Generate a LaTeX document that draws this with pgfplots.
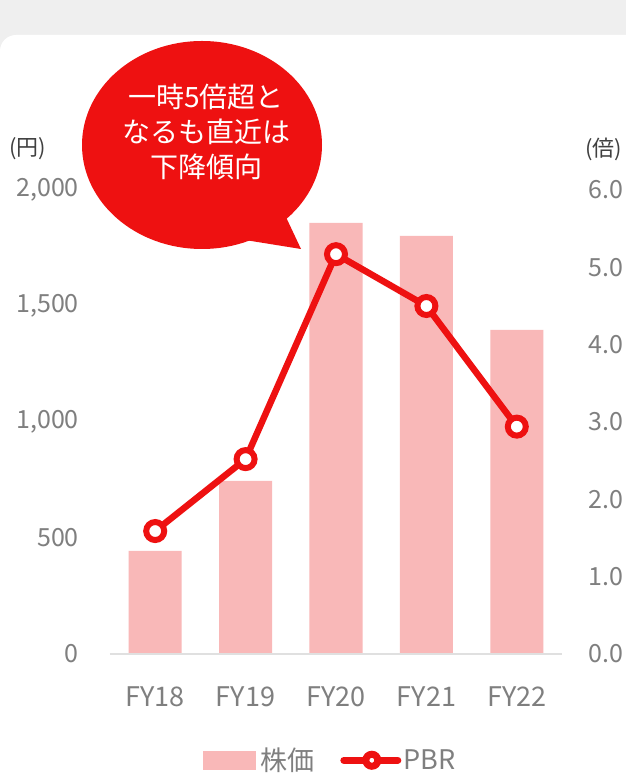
\documentclass[border=0pt]{standalone}
\usepackage{fontspec}
\setmainfont{Noto Sans CJK JP}
\usepackage{pgfplots}
\usepackage{pgfplotstable}
\pgfplotsset{compat=1.18}
\definecolor{bgray}{HTML}{EFEFEF}
\definecolor{barpink}{HTML}{F9B8B8}
\definecolor{pbrred}{HTML}{EE1111}
\definecolor{ticklab}{HTML}{7F7F7F}
\definecolor{unitlab}{HTML}{404040}
\definecolor{basegray}{HTML}{E0E0E0}
\pgfplotstableread{
x price pbr
0 444 1.59
1 746 2.52
2 1858 5.17
3 1802 4.50
4 1397 2.94
}\datatable
\begin{document}
\begin{tikzpicture}[x=1pt,y=1pt]
\fill[bgray] (0,0) rectangle (626,774);
\fill[white] (0,0) -- (0,723) arc[start angle=180,end angle=90,radius=16] -- (626,739) -- (626,0) -- cycle;
\pgfplotsset{common/.style={at={(110pt,120pt)}, anchor=south west, scale only axis,
  width=452pt, height=464pt, xmin=-0.5, xmax=4.5,
  axis line style={draw=none}, tick style={draw=none}, clip=false}}
\begin{axis}[common, ymin=0, ymax=2000,
  ytick={0,500,1000,1500,2000}, yticklabels={0,500,{1,000},{1,500},{2,000}},
  xtick={0,1,2,3,4}, xticklabels={FY18,FY19,FY20,FY21,FY22},
  yticklabel style={font=\fontsize{25}{25}\selectfont, text=ticklab, anchor=east, inner sep=0pt, xshift=-31pt},
  xticklabel style={font=\fontsize{27}{27}\selectfont, text=ticklab, anchor=north, inner sep=0pt, yshift=-33pt}]
\addplot[ybar, bar width=53pt, fill=barpink, draw=none] table[x=x,y=price]{\datatable};
\draw[basegray, line width=2pt] (axis cs:-0.5,0) -- (axis cs:4.5,0);
\end{axis}
\begin{axis}[common, ymin=0, ymax=6,
  ytick={0,1,2,3,4,5,6}, yticklabels={0.0,1.0,2.0,3.0,4.0,5.0,6.0},
  yticklabel pos=right, xtick=\empty,
  yticklabel style={font=\fontsize{25}{25}\selectfont, text=ticklab, anchor=west, inner sep=0pt, xshift=26pt},
  legend style={at={(0.487,-0.229)}, anchor=center, legend columns=2, draw=none, fill=none,
    font=\fontsize{27}{27}\selectfont, text=ticklab,
    /tikz/every even column/.append style={column sep=24pt}}]
\addlegendimage{legend image code/.code={\fill[barpink] (0pt,-9pt) rectangle (52pt,9pt);}}
\addlegendentry{\hspace{3pt}株価}
\addplot[pbrred, line width=6.5pt, mark=*, mark size=9pt,
  mark options={fill=white, draw=pbrred, line width=6pt},
  legend image code/.code={\draw[pbrred,line width=7pt,line cap=round] (2pt,0pt) -- (56pt,0pt); \draw[pbrred, line width=7pt, fill=white] (30pt,0pt) circle (6pt);}]
  table[x=x,y=pbr]{\datatable};
\addlegendentry{PBR}
\end{axis}
\node[anchor=west, text=unitlab, font=\fontsize{22}{22}\selectfont, inner sep=0pt] at (9,625) {(円)};
\node[anchor=west, text=unitlab, font=\fontsize{22}{22}\selectfont, inner sep=0pt] at (585,625) {(倍)};
\fill[pbrred] (202,629) ellipse[x radius=120, y radius=104];
\fill[pbrred] (245,534) -- (301,525) -- (285,559) -- cycle;
\node[text=white, align=center, font=\fontsize{28}{35}\selectfont] at (206,642) {一時5倍超と\\なるも直近は\\下降傾向};
\pgfresetboundingbox
\useasboundingbox (0,0) rectangle (626,774);
\end{tikzpicture}
\end{document}
